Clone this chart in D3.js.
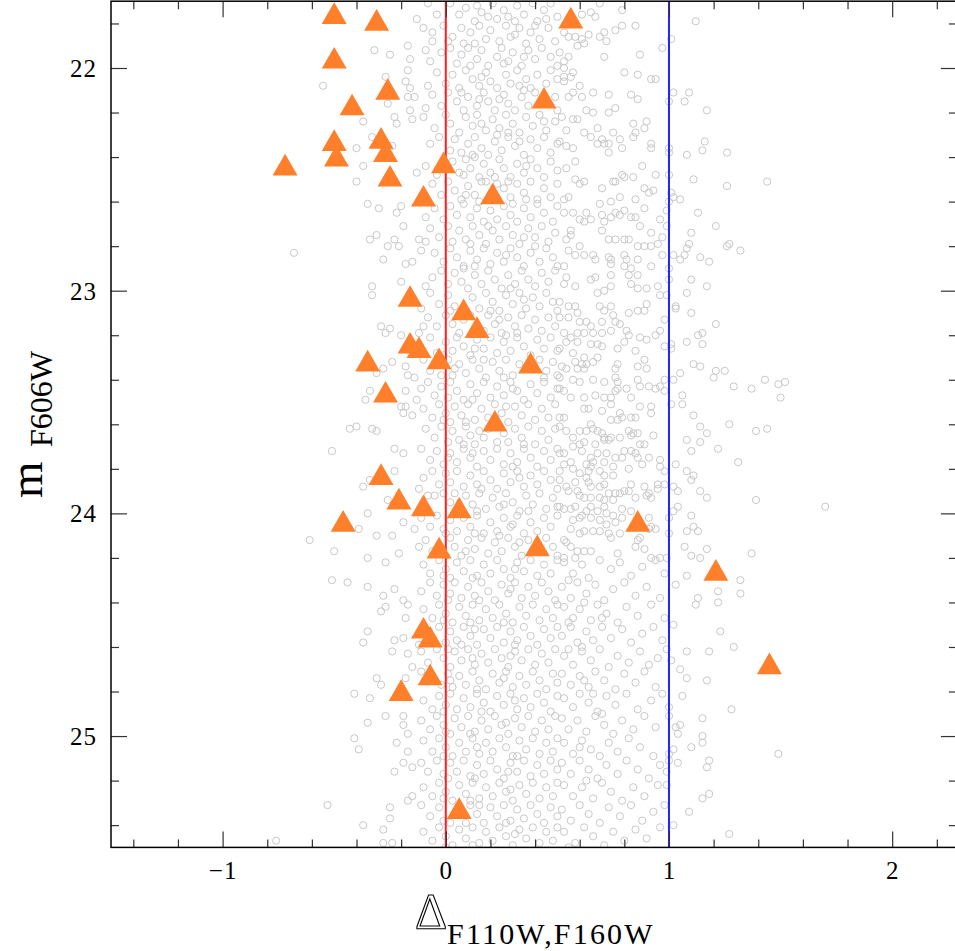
<!DOCTYPE html>
<html><head><meta charset="utf-8">
<script src="https://cdn.jsdelivr.net/npm/d3@7"></script>
<style>body{margin:0;background:#fff}svg{display:block}</style>
</head><body>
<svg id="c" width="955" height="951"></svg>
<script>
// ---- axis extents and ticks ----
const xDomain = [-1.5, 2.29];
const yDomain = [21.7, 25.5];
const xMajorTicks = [-1, 0, 1, 2];
const xTickLabels = ["\u22121", "0", "1", "2"];
const xMinorTicks = [-1.4,-1.2,-0.8,-0.6,-0.4,-0.2,0.2,0.4,0.6,0.8,1.2,1.4,1.6,1.8,2.2];
const yMajorTicks = [22, 23, 24, 25];
const yTickLabels = ["22", "23", "24", "25"];
const yMinorTicks = [21.8,22.2,22.4,22.6,22.8,23.2,23.4,23.6,23.8,24.2,24.4,24.6,24.8,25.2,25.4];
const refLineX = [0, 1];

// ---- cluster members (triangles): [Delta, mF606W] ----
const members = [
[-0.50,21.77],[-0.31,21.80],[0.56,21.79],[-0.50,21.97],[-0.26,22.11],[-0.42,22.18],[0.44,22.15],
[-0.50,22.34],[-0.29,22.33],[-0.49,22.41],[-0.27,22.39],[-0.72,22.45],[-0.01,22.44],[-0.25,22.50],
[-0.10,22.59],[0.21,22.58],[-0.16,23.04],[0.08,23.10],[0.14,23.18],[-0.16,23.25],[-0.12,23.27],
[-0.03,23.32],[-0.35,23.33],[0.38,23.34],[-0.27,23.47],[0.22,23.60],[-0.29,23.84],[-0.21,23.95],
[-0.10,23.98],[0.06,23.99],[-0.46,24.05],[0.86,24.05],[-0.03,24.17],[0.41,24.16],[1.21,24.27],
[-0.10,24.53],[-0.07,24.57],[-0.07,24.74],[-0.20,24.81],[1.45,24.69],[0.06,25.34]
];

// ---- field stars (open circles): [Delta, mF606W] ----
const coreBright = [
[0.02,21.71],[0.06,21.76],[0.09,21.73],[0.13,21.79],[0.14,21.72],[0.19,21.77],[0.21,21.71],[0.23,21.78],[0.26,21.74],[0.31,21.79],[0.32,21.72],[0.35,21.76],[0.39,21.71],[0.41,21.79],[0.44,21.74],[0.47,21.71],[0.50,21.77],[-0.04,21.76],[-0.08,21.71],[0.16,21.75],[0.28,21.77],[0.45,21.78],
[-0.06,21.84],[-0.01,21.81],[0.03,21.86],[0.07,21.82],[0.08,21.89],[0.11,21.84],[0.15,21.81],[0.18,21.87],[0.20,21.83],[0.24,21.88],[0.27,21.81],[0.29,21.86],[0.33,21.82],[0.36,21.89],[0.38,21.84],[0.42,21.87],[0.46,21.82],[0.49,21.88],[0.13,21.89],[0.31,21.85],[0.01,21.88],[0.40,21.81],
[-0.07,21.97],[-0.02,21.93],[0.02,21.91],[0.05,21.98],[0.07,21.94],[0.10,21.91],[0.14,21.96],[0.16,21.92],[0.19,21.99],[0.23,21.95],[0.25,21.91],[0.28,21.97],[0.30,21.93],[0.34,21.99],[0.37,21.92],[0.40,21.96],[0.43,21.91],[0.47,21.95],[0.50,21.99],[0.11,21.99],[0.26,21.98],[0.35,21.95],
[-0.04,22.02],[0.00,22.07],[0.03,22.03],[0.06,22.09],[0.09,22.01],[0.12,22.05],[0.15,22.08],[0.18,22.02],[0.20,22.06],[0.23,22.09],[0.27,22.03],[0.29,22.07],[0.32,22.01],[0.36,22.05],[0.38,22.09],[0.41,22.03],[0.45,22.07],[0.47,22.01],[0.50,22.05],[0.16,22.04],[0.33,22.08],[-0.08,22.08],
[-0.06,22.12],[-0.02,22.17],[0.01,22.11],[0.05,22.15],[0.08,22.19],[0.10,22.13],[0.14,22.17],[0.17,22.11],[0.19,22.15],[0.22,22.19],[0.26,22.12],[0.28,22.16],[0.31,22.19],[0.34,22.13],[0.37,22.17],[0.40,22.11],[0.49,22.13],[0.50,22.19],[0.07,22.11],[0.24,22.14],[0.35,22.10],[0.15,22.14],
[-0.05,22.27],[0.00,22.21],[0.02,22.25],[0.06,22.29],[0.09,22.22],[0.12,22.26],[0.14,22.21],[0.18,22.28],[0.21,22.23],[0.24,22.27],[0.27,22.21],[0.30,22.25],[0.33,22.29],[0.36,22.22],[0.39,22.26],[0.42,22.21],[0.45,22.28],[0.49,22.24],[0.16,22.25],[0.28,22.29],[0.44,22.24],[-0.10,22.22],
[-0.07,22.34],[-0.03,22.31],[0.02,22.37],[0.04,22.32],[0.07,22.38],[0.10,22.34],[0.13,22.31],[0.16,22.36],[0.19,22.39],[0.22,22.33],[0.25,22.37],[0.28,22.31],[0.31,22.35],[0.35,22.39],[0.38,22.32],[0.41,22.36],[0.44,22.31],[0.47,22.38],[0.50,22.34],[0.12,22.39],[0.33,22.33],[0.23,22.30],
[0.03,22.42],[0.06,22.47],[0.09,22.41],[0.11,22.45],[0.15,22.49],[0.17,22.43],[0.20,22.47],[0.24,22.41],[0.26,22.45],[0.29,22.49],[0.32,22.43],[0.35,22.47],[0.38,22.41],[0.41,22.45],[0.44,22.49],[0.47,22.42],[0.50,22.46],[-0.04,22.48],[0.13,22.40],[0.36,22.44],[0.22,22.49],[0.08,22.48],
[-0.06,22.52],[-0.02,22.57],[0.01,22.51],[0.04,22.55],[0.07,22.59],[0.10,22.53],[0.13,22.57],[0.16,22.51],[0.26,22.54],[0.29,22.58],[0.32,22.52],[0.35,22.56],[0.38,22.51],[0.41,22.59],[0.44,22.54],[0.47,22.58],[0.50,22.52],[0.18,22.51],[0.28,22.51],[0.09,22.57],[0.36,22.59],[0.23,22.52],
[-0.05,22.63],[-0.01,22.68],[0.02,22.62],[0.05,22.66],[0.08,22.61],[0.11,22.67],[0.14,22.63],[0.17,22.69],[0.20,22.64],[0.23,22.68],[0.26,22.62],[0.29,22.66],[0.32,22.69],[0.35,22.63],[0.38,22.67],[0.41,22.61],[0.44,22.65],[0.48,22.69],[0.50,22.62],[0.15,22.60],[0.30,22.61],[-0.09,22.67],
[-0.07,22.72],[-0.03,22.76],[0.01,22.71],[0.03,22.78],[0.06,22.73],[0.09,22.77],[0.12,22.71],[0.15,22.75],[0.18,22.79],[0.21,22.73],[0.24,22.77],[0.27,22.71],[0.30,22.75],[0.33,22.79],[0.37,22.72],[0.40,22.76],[0.43,22.71],[0.46,22.78],[0.49,22.74],[0.19,22.71],[0.35,22.76],[0.11,22.79],
[-0.05,22.83],[-0.01,22.87],[0.02,22.81],[0.05,22.85],[0.08,22.89],[0.11,22.82],[0.14,22.86],[0.17,22.81],[0.20,22.88],[0.23,22.83],[0.26,22.87],[0.29,22.81],[0.32,22.85],[0.35,22.89],[0.38,22.83],[0.42,22.87],[0.45,22.81],[0.48,22.85],[0.50,22.89],[0.13,22.89],[0.27,22.84],[0.40,22.80],
[-0.06,22.94],[-0.02,22.91],[0.01,22.97],[0.04,22.92],[0.07,22.96],[0.10,22.99],[0.13,22.93],[0.16,22.97],[0.19,22.91],[0.22,22.95],[0.25,22.99],[0.28,22.93],[0.31,22.97],[0.34,22.91],[0.37,22.95],[0.40,22.98],[0.43,22.92],[0.46,22.96],[0.49,22.91],[0.08,22.90],[0.29,22.99],[-0.09,22.98]
];
const coreMid = [
[-0.07,23.01],[-0.03,23.06],[0.01,23.02],[0.04,23.07],[0.12,23.03],[0.15,23.08],[0.18,23.01],[0.21,23.05],[0.24,23.09],[0.27,23.02],[0.30,23.06],[0.33,23.01],[0.36,23.08],[0.39,23.03],[0.42,23.07],[0.45,23.01],[0.48,23.05],[0.50,23.09],[0.20,23.09],[0.35,23.04],[0.02,23.09],[-0.11,23.08],
[-0.08,23.12],[-0.04,23.16],[0.00,23.11],[0.03,23.15],[0.06,23.19],[0.08,23.13],[0.19,23.11],[0.22,23.15],[0.25,23.19],[0.28,23.12],[0.31,23.16],[0.34,23.11],[0.37,23.17],[0.40,23.13],[0.43,23.18],[0.46,23.12],[0.49,23.16],[0.17,23.18],[0.32,23.19],[0.11,23.11],[-0.12,23.19],[0.24,23.13],
[-0.07,23.21],[-0.04,23.28],[0.00,23.23],[0.03,23.27],[0.05,23.21],[0.08,23.25],[0.11,23.29],[0.14,23.22],[0.17,23.26],[0.20,23.21],[0.23,23.28],[0.26,23.23],[0.29,23.27],[0.32,23.21],[0.35,23.25],[0.38,23.29],[0.41,23.22],[0.44,23.26],[0.47,23.21],[0.50,23.27],[0.13,23.26],[0.27,23.20],[-0.01,23.29],
[-0.10,23.31],[-0.07,23.36],[0.01,23.31],[0.03,23.38],[0.06,23.33],[0.09,23.37],[0.12,23.31],[0.15,23.35],[0.18,23.39],[0.21,23.32],[0.24,23.36],[0.27,23.31],[0.30,23.38],[0.33,23.33],[0.42,23.31],[0.45,23.36],[0.48,23.32],[0.50,23.38],[0.17,23.31],[0.26,23.39],[0.04,23.35],[-0.02,23.38],[0.44,23.39],
[-0.11,23.44],[-0.08,23.41],[-0.05,23.47],[-0.02,23.43],[0.01,23.48],[0.02,23.41],[0.05,23.45],[0.08,23.49],[0.11,23.42],[0.14,23.46],[0.17,23.41],[0.20,23.48],[0.23,23.43],[0.26,23.47],[0.29,23.41],[0.32,23.45],[0.35,23.49],[0.38,23.42],[0.41,23.46],[0.44,23.41],[0.47,23.48],[0.50,23.44],[0.12,23.49],[0.30,23.44],
[-0.10,23.53],[-0.06,23.57],[-0.03,23.51],[0.00,23.55],[0.02,23.59],[0.04,23.52],[0.07,23.56],[0.10,23.51],[0.13,23.58],[0.16,23.53],[0.19,23.57],[0.22,23.51],[0.25,23.55],[0.28,23.59],[0.31,23.52],[0.34,23.56],[0.37,23.51],[0.40,23.58],[0.43,23.53],[0.46,23.57],[0.49,23.51],[0.09,23.59],[0.27,23.52],[-0.01,23.58],
[-0.09,23.62],[-0.05,23.66],[-0.02,23.61],[0.01,23.68],[0.03,23.63],[0.06,23.67],[0.09,23.61],[0.11,23.65],[0.13,23.69],[0.15,23.63],[0.17,23.66],[0.19,23.62],[0.26,23.64],[0.28,23.68],[0.31,23.62],[0.34,23.66],[0.37,23.61],[0.40,23.69],[0.43,23.63],[0.46,23.67],[0.49,23.62],[0.23,23.68],[0.08,23.69],[0.35,23.69],
[-0.11,23.71],[-0.07,23.76],[-0.04,23.72],[-0.01,23.78],[0.02,23.73],[0.05,23.77],[0.08,23.71],[0.11,23.75],[0.14,23.79],[0.17,23.72],[0.20,23.76],[0.23,23.71],[0.26,23.78],[0.29,23.73],[0.32,23.77],[0.35,23.71],[0.38,23.75],[0.41,23.79],[0.44,23.72],[0.47,23.76],[0.50,23.71],[0.12,23.73],[0.30,23.79],[0.01,23.75],
[-0.10,23.84],[-0.06,23.81],[-0.03,23.87],[0.00,23.82],[0.02,23.86],[0.05,23.81],[0.08,23.88],[0.11,23.83],[0.14,23.87],[0.17,23.81],[0.20,23.85],[0.23,23.89],[0.26,23.82],[0.29,23.86],[0.32,23.81],[0.35,23.88],[0.38,23.83],[0.41,23.87],[0.44,23.81],[0.47,23.85],[0.50,23.89],[0.16,23.89],[0.33,23.84],[-0.12,23.89],
[-0.05,23.92],[-0.01,23.91],[0.02,23.95],[0.09,23.92],[0.12,23.96],[0.15,23.91],[0.18,23.98],[0.21,23.93],[0.24,23.97],[0.27,23.91],[0.30,23.95],[0.33,23.99],[0.36,23.92],[0.39,23.96],[0.42,23.91],[0.45,23.98],[0.48,23.93],[0.50,23.97],[0.14,23.99],[0.26,23.96],[-0.08,23.92],[0.04,23.91],[0.37,23.99],
[-0.11,24.02],[-0.07,24.06],[-0.04,24.01],[-0.01,24.07],[0.02,24.03],[0.05,24.08],[0.08,24.02],[0.11,24.06],[0.14,24.01],[0.17,24.09],[0.20,24.04],[0.23,24.08],[0.26,24.02],[0.29,24.06],[0.32,24.01],[0.35,24.09],[0.38,24.04],[0.41,24.08],[0.44,24.02],[0.47,24.06],[0.50,24.01],[0.13,24.09],[0.30,24.05],[0.00,24.09],
[-0.09,24.12],[-0.06,24.17],[0.02,24.11],[0.04,24.15],[0.07,24.19],[0.10,24.12],[0.13,24.16],[0.16,24.11],[0.19,24.18],[0.22,24.13],[0.25,24.17],[0.28,24.11],[0.31,24.15],[0.34,24.19],[0.37,24.12],[0.45,24.11],[0.48,24.15],[0.50,24.19],[0.09,24.17],[0.24,24.10],[0.00,24.19],[0.33,24.13],[-0.12,24.15]
];
const coreFaint = [
[-0.10,24.23],[-0.07,24.27],[-0.03,24.21],[0.00,24.25],[0.02,24.29],[0.05,24.22],[0.08,24.26],[0.11,24.21],[0.14,24.28],[0.17,24.23],[0.20,24.27],[0.23,24.21],[0.26,24.25],[0.29,24.29],[0.32,24.22],[0.35,24.26],[0.38,24.21],[0.41,24.28],[0.44,24.23],[0.47,24.27],[0.50,24.21],[0.12,24.29],[0.31,24.25],[-0.01,24.28],
[-0.11,24.35],[-0.07,24.31],[-0.04,24.37],[-0.01,24.32],[0.02,24.36],[0.04,24.31],[0.07,24.38],[0.10,24.33],[0.13,24.37],[0.16,24.31],[0.19,24.35],[0.22,24.39],[0.25,24.32],[0.28,24.36],[0.31,24.31],[0.34,24.38],[0.37,24.33],[0.40,24.37],[0.43,24.31],[0.46,24.35],[0.49,24.39],[0.15,24.39],[0.29,24.34],[0.01,24.39],
[-0.10,24.43],[-0.06,24.47],[-0.03,24.41],[0.00,24.45],[0.03,24.49],[0.06,24.42],[0.09,24.46],[0.12,24.41],[0.15,24.48],[0.18,24.43],[0.21,24.47],[0.24,24.41],[0.27,24.45],[0.30,24.49],[0.33,24.42],[0.36,24.46],[0.39,24.41],[0.42,24.48],[0.45,24.43],[0.48,24.47],[0.50,24.41],[0.11,24.49],[0.26,24.49],[-0.01,24.48],
[-0.03,24.51],[0.00,24.58],[0.02,24.53],[0.05,24.57],[0.08,24.51],[0.11,24.55],[0.14,24.59],[0.17,24.52],[0.20,24.56],[0.23,24.51],[0.26,24.58],[0.29,24.53],[0.32,24.57],[0.35,24.51],[0.38,24.55],[0.41,24.59],[0.44,24.52],[0.47,24.56],[0.50,24.51],[0.13,24.52],[0.31,24.59],[-0.12,24.59],[0.07,24.59],
[-0.11,24.62],[-0.08,24.67],[-0.04,24.61],[-0.01,24.65],[0.02,24.69],[0.04,24.62],[0.07,24.66],[0.10,24.61],[0.13,24.68],[0.16,24.63],[0.19,24.67],[0.22,24.61],[0.25,24.65],[0.28,24.69],[0.31,24.62],[0.34,24.66],[0.37,24.61],[0.40,24.68],[0.43,24.63],[0.46,24.67],[0.49,24.61],[0.12,24.65],[0.29,24.64],[0.01,24.61],
[-0.11,24.71],[-0.02,24.77],[0.01,24.72],[0.03,24.78],[0.06,24.73],[0.09,24.77],[0.12,24.71],[0.15,24.75],[0.18,24.79],[0.21,24.72],[0.24,24.76],[0.27,24.71],[0.30,24.78],[0.33,24.73],[0.36,24.77],[0.39,24.71],[0.42,24.75],[0.45,24.79],[0.48,24.72],[0.50,24.76],[0.14,24.79],[0.26,24.74],[0.02,24.75],
[-0.10,24.84],[-0.06,24.88],[-0.03,24.82],[0.00,24.86],[0.02,24.81],[0.05,24.88],[0.08,24.83],[0.11,24.87],[0.14,24.81],[0.17,24.85],[0.20,24.89],[0.23,24.82],[0.26,24.86],[0.29,24.81],[0.32,24.88],[0.35,24.83],[0.38,24.87],[0.41,24.81],[0.44,24.85],[0.47,24.89],[0.50,24.82],[0.16,24.89],[0.31,24.84],[-0.01,24.89],
[-0.11,24.93],[-0.07,24.97],[-0.04,24.91],[-0.01,24.95],[0.02,24.99],[0.04,24.92],[0.07,24.96],[0.10,24.91],[0.13,24.98],[0.16,24.93],[0.19,24.97],[0.22,24.91],[0.25,24.95],[0.28,24.99],[0.31,24.92],[0.34,24.96],[0.37,24.91],[0.40,24.98],[0.43,24.93],[0.46,24.97],[0.49,24.91],[0.11,24.99],[0.27,24.94],[0.00,24.98],
[-0.10,25.02],[-0.06,25.07],[-0.03,25.01],[0.00,25.05],[0.03,25.09],[0.06,25.03],[0.09,25.07],[0.12,25.01],[0.15,25.08],[0.18,25.03],[0.21,25.07],[0.24,25.01],[0.27,25.05],[0.30,25.09],[0.33,25.02],[0.36,25.06],[0.39,25.01],[0.42,25.08],[0.45,25.03],[0.48,25.07],[0.50,25.01],[0.14,25.05],[0.32,25.09],[-0.01,25.09],
[-0.11,25.12],[-0.08,25.16],[-0.04,25.11],[-0.01,25.17],[0.02,25.12],[0.05,25.16],[0.08,25.11],[0.11,25.18],[0.14,25.13],[0.17,25.17],[0.20,25.11],[0.23,25.15],[0.26,25.19],[0.29,25.12],[0.32,25.16],[0.35,25.11],[0.38,25.18],[0.41,25.13],[0.44,25.17],[0.47,25.11],[0.50,25.15],[0.13,25.19],[0.28,25.16],[0.01,25.19],
[-0.10,25.23],[-0.06,25.27],[-0.03,25.21],[0.00,25.25],[0.03,25.29],[0.06,25.22],[0.09,25.26],[0.12,25.21],[0.15,25.28],[0.18,25.23],[0.21,25.27],[0.24,25.21],[0.27,25.25],[0.30,25.29],[0.33,25.22],[0.36,25.26],[0.39,25.21],[0.42,25.28],[0.45,25.23],[0.48,25.27],[0.50,25.21],[0.11,25.29],[0.29,25.24],[-0.01,25.28],
[-0.11,25.31],[-0.07,25.36],[-0.03,25.32],[-0.01,25.38],[0.11,25.31],[0.14,25.35],[0.17,25.39],[0.20,25.32],[0.23,25.36],[0.26,25.31],[0.29,25.38],[0.32,25.33],[0.35,25.37],[0.38,25.31],[0.41,25.35],[0.44,25.39],[0.47,25.32],[0.50,25.36],[0.15,25.31],[0.27,25.39],[0.02,25.39],[0.09,25.39],
[-0.10,25.43],[-0.06,25.47],[-0.03,25.41],[0.00,25.45],[0.03,25.49],[0.06,25.42],[0.09,25.46],[0.12,25.41],[0.15,25.48],[0.18,25.43],[0.21,25.47],[0.24,25.41],[0.27,25.45],[0.30,25.49],[0.33,25.42],[0.36,25.46],[0.39,25.41],[0.42,25.48],[0.45,25.43],[0.48,25.47],[0.50,25.41],[0.12,25.49],[0.31,25.44],[0.00,25.50]
];
const redwardBright = [
[0.61,21.76],[0.65,21.75],[0.67,21.77],[0.69,21.71],[0.79,21.74],[0.79,21.81],[0.76,21.83],[0.85,21.81],[0.71,21.84],[0.69,21.86],[0.72,21.88],[0.64,21.85],[0.61,21.87],[0.58,21.86],[0.55,21.86],[0.53,21.84],[0.59,21.90],[0.62,21.89],[0.51,21.93],[0.53,21.97],[0.55,21.95],[0.53,22.00],[0.57,22.02],[0.53,22.04],[0.56,22.04],[0.53,22.06],[0.71,21.95],[0.87,21.94],[0.97,21.91],
[0.80,22.02],[0.86,22.03],[0.92,22.05],[0.94,22.05],[0.60,22.08],[0.66,22.11],[0.57,22.11],[0.55,22.13],[0.61,22.13],[0.73,22.12],[0.83,22.12],[0.86,22.14],[0.76,22.18],[0.63,22.19],[0.66,22.20],[0.73,22.20],[0.52,22.22],[0.57,22.23],[0.59,22.23],[0.90,22.24],[0.89,22.27],[0.84,22.25],[0.68,22.27],[0.54,22.28],[0.62,22.29],[0.65,22.31],[0.75,22.29],[0.78,22.32],[0.85,22.29],[0.84,22.31],
[0.70,22.32],[0.68,22.34],[0.71,22.34],[0.73,22.34],[0.73,22.38],[0.79,22.36],[0.92,22.34],[0.92,22.36],[0.51,22.33],[0.54,22.35],[0.57,22.36],[0.58,22.42],[0.54,22.45],[0.88,22.44],[0.79,22.48],[0.80,22.49],[0.84,22.49],[0.94,22.48],[0.58,22.50],[0.62,22.51],[0.60,22.52],[0.75,22.51],[0.76,22.51],[0.70,22.54],[0.89,22.54],[0.91,22.56],[0.93,22.55],[0.78,22.58],[0.74,22.60],[0.85,22.59],[0.53,22.59],[0.55,22.58],[0.69,22.61],
[0.89,22.63],[0.99,22.64],[0.53,22.65],[0.57,22.65],[0.63,22.65],[0.70,22.66],[0.76,22.65],[0.78,22.66],[0.80,22.64],[0.60,22.68],[0.62,22.69],[0.65,22.68],[0.71,22.69],[0.74,22.67],[0.83,22.67],[0.85,22.67],[0.96,22.68],[0.87,22.71],[0.92,22.74],[0.97,22.76],[0.99,22.71],[0.70,22.73],[0.56,22.73],[0.54,22.77],[0.56,22.75],[0.60,22.80],[0.73,22.77],[0.76,22.77],[0.80,22.77],[0.82,22.77],
[0.86,22.80],[0.89,22.80],[0.92,22.80],[0.95,22.79],[0.55,22.82],[0.58,22.84],[0.62,22.84],[0.66,22.84],[0.67,22.86],[0.73,22.85],[0.74,22.86],[0.80,22.84],[0.81,22.86],[0.86,22.86],[0.97,22.84],[0.92,22.89],[0.74,22.88],[0.74,22.93],[0.80,22.89],[0.83,22.90],[0.82,22.93],[0.86,22.93],[0.53,22.89],[0.54,22.94],[0.67,22.94],[0.65,22.95],
[1.00,22.15],[1.00,22.36],[1.00,22.38],[1.00,22.48],[1.01,22.56],[1.00,22.60],[1.00,22.90],[1.00,22.95]
];
const redwardMid = [
[0.53,22.97],[0.58,22.98],[0.68,23.01],[0.71,23.00],[0.74,22.98],[0.83,22.97],[0.86,22.99],[0.90,22.99],[0.95,22.98],[0.96,23.02],[0.99,23.02],[0.51,23.05],[0.55,23.07],[0.58,23.07],[0.59,23.10],[0.69,23.07],[0.74,23.07],[0.71,23.09],[0.75,23.11],[0.82,23.10],[0.86,23.09],[0.89,23.09],[0.90,23.06],
[0.51,23.12],[0.55,23.12],[0.60,23.14],[0.63,23.14],[0.65,23.16],[0.70,23.14],[0.76,23.14],[0.78,23.15],[0.53,23.19],[0.56,23.21],[0.59,23.19],[0.62,23.19],[0.66,23.19],[0.70,23.19],[0.74,23.18],[0.81,23.18],[0.82,23.20],[0.80,23.23],[0.87,23.21],[0.90,23.22],[0.94,23.20],[0.96,23.18],[0.98,23.13],
[0.54,23.23],[0.59,23.23],[0.65,23.24],[0.68,23.24],[0.70,23.25],[0.77,23.26],[0.85,23.27],[0.98,23.25],[0.51,23.26],[0.57,23.28],[0.62,23.30],[0.68,23.30],[0.58,23.32],[0.61,23.33],[0.63,23.33],[0.66,23.32],[0.52,23.34],[0.54,23.35],[0.59,23.35],[0.62,23.35],[0.77,23.33],[0.76,23.35],[0.86,23.34],[0.89,23.31],[0.90,23.35],
[0.51,23.39],[0.57,23.40],[0.60,23.41],[0.66,23.40],[0.71,23.41],[0.76,23.39],[0.77,23.41],[0.86,23.40],[0.98,23.40],[0.51,23.44],[0.53,23.45],[0.56,23.48],[0.62,23.48],[0.67,23.47],[0.71,23.48],[0.74,23.48],[0.74,23.51],[0.76,23.45],[0.77,23.44],[0.81,23.44],[0.83,23.48],[0.87,23.43],[0.91,23.43],[0.94,23.44],[0.96,23.43],[0.98,23.45],
[0.62,23.53],[0.64,23.53],[0.70,23.54],[0.74,23.58],[0.77,23.58],[0.78,23.55],[0.79,23.57],[0.83,23.57],[0.85,23.57],[0.87,23.52],[0.92,23.52],[0.92,23.55],[0.51,23.57],[0.53,23.57],[0.51,23.61],[0.54,23.63],[0.60,23.63],[0.63,23.63],[0.65,23.60],[0.66,23.62],[0.68,23.63],[0.70,23.64],[0.71,23.66],[0.71,23.67],[0.74,23.66],[0.78,23.66],[0.82,23.63],[0.83,23.65],[0.84,23.64],[0.86,23.64],[0.93,23.65],[0.57,23.66],
[0.62,23.68],[0.67,23.69],[0.73,23.67],[0.80,23.72],[0.83,23.72],[0.85,23.73],[0.87,23.69],[0.89,23.69],[0.51,23.73],[0.53,23.73],[0.57,23.70],[0.60,23.69],[0.61,23.72],[0.65,23.75],[0.68,23.73],[0.72,23.73],[0.76,23.75],[0.79,23.75],[0.86,23.75],[0.91,23.75],[0.96,23.76],[0.53,23.78],[0.56,23.77],[0.63,23.78],[0.66,23.77],[0.69,23.81],[0.71,23.77],[0.75,23.79],
[0.51,23.81],[0.57,23.80],[0.60,23.82],[0.64,23.81],[0.65,23.79],[0.71,23.83],[0.75,23.83],[0.82,23.80],[0.88,23.78],[0.96,23.79],[0.98,23.81],[0.51,23.85],[0.54,23.88],[0.58,23.86],[0.63,23.84],[0.64,23.86],[0.65,23.88],[0.69,23.88],[0.71,23.87],[0.73,23.91],[0.76,23.91],[0.80,23.90],[0.82,23.90],[0.83,23.87],[0.55,23.90],[0.59,23.90],[0.60,23.92],[0.62,23.93],[0.65,23.93],[0.69,23.93],[0.71,23.94],[0.75,23.94],[0.78,23.91],[0.85,23.93],[0.91,23.91],[0.89,23.88],[0.90,23.92],[0.92,23.93],[0.95,23.89],[0.95,23.87],[0.98,23.87],
[0.51,23.97],[0.53,23.98],[0.56,23.98],[0.58,23.97],[0.61,24.01],[0.63,23.99],[0.65,23.97],[0.68,23.99],[0.71,23.97],[0.72,24.00],[0.75,24.01],[0.79,23.98],[0.83,23.99],[0.79,24.02],[0.76,24.04],[0.72,24.05],[0.69,24.03],[0.65,24.02],[0.60,24.02],[0.57,24.03],[0.56,24.07],[0.60,24.09],[0.62,24.08],[0.66,24.08],[0.69,24.08],[0.73,24.09],[0.74,24.11],[0.78,24.09],[0.86,24.12],[0.87,24.11],[0.91,24.07],[0.91,24.02],[0.92,24.06],[0.94,24.07],
[0.53,24.12],[0.54,24.13],[0.56,24.15],[0.59,24.17],[0.62,24.17],[0.65,24.17],[0.53,24.20],[0.58,24.20],[0.77,24.18],[0.85,24.15],[0.89,24.16],[0.92,24.20],[0.96,24.20],[0.99,24.20]
];
const redwardFaint = [
[0.53,24.22],[0.57,24.27],[0.61,24.23],[0.64,24.29],[0.69,24.21],[0.74,24.25],[0.78,24.22],[0.83,24.28],[0.88,24.24],[0.94,24.21],[0.98,24.27],[0.55,24.30],
[0.52,24.33],[0.56,24.38],[0.59,24.31],[0.63,24.36],[0.67,24.32],[0.71,24.39],[0.75,24.34],[0.80,24.31],[0.85,24.37],[0.90,24.33],[0.96,24.38],[0.62,24.40],
[0.53,24.42],[0.57,24.47],[0.60,24.43],[0.65,24.48],[0.68,24.41],[0.72,24.45],[0.77,24.49],[0.81,24.42],[0.86,24.46],[0.92,24.41],[0.55,24.49],[0.70,24.47],
[0.52,24.55],[0.56,24.51],[0.59,24.58],[0.63,24.53],[0.66,24.57],[0.70,24.51],[0.74,24.56],[0.79,24.52],[0.83,24.58],[0.88,24.54],[0.93,24.51],[0.97,24.57],[0.61,24.60],
[0.53,24.64],[0.57,24.68],[0.61,24.62],[0.65,24.66],[0.69,24.61],[0.73,24.69],[0.77,24.64],[0.82,24.67],[0.87,24.62],[0.91,24.68],[0.55,24.61],[0.95,24.65],
[0.52,24.72],[0.56,24.77],[0.60,24.73],[0.64,24.78],[0.67,24.71],[0.71,24.75],[0.76,24.79],[0.80,24.72],[0.85,24.76],[0.89,24.71],[0.94,24.78],[0.62,24.75],
[0.53,24.83],[0.57,24.87],[0.60,24.81],[0.64,24.85],[0.68,24.89],[0.72,24.82],[0.76,24.86],[0.81,24.81],[0.86,24.88],[0.92,24.84],[0.97,24.81],[0.66,24.81],
[0.52,24.92],[0.55,24.97],[0.59,24.93],[0.63,24.98],[0.67,24.91],[0.71,24.95],[0.75,24.99],[0.79,24.93],[0.84,24.97],[0.89,24.91],[0.94,24.96],[0.70,24.90],
[0.53,25.03],[0.57,25.08],[0.61,25.02],[0.65,25.06],[0.69,25.09],[0.73,25.03],[0.77,25.07],[0.82,25.01],[0.87,25.05],[0.93,25.09],[0.60,25.05],
[0.52,25.12],[0.56,25.17],[0.60,25.11],[0.64,25.15],[0.68,25.19],[0.72,25.13],[0.77,25.17],[0.81,25.11],[0.86,25.15],[0.91,25.19],[0.96,25.13],
[0.53,25.22],[0.57,25.27],[0.61,25.23],[0.66,25.28],[0.70,25.21],[0.74,25.25],[0.79,25.29],[0.84,25.23],[0.89,25.27],[0.95,25.22],[0.63,25.20],
[0.52,25.33],[0.56,25.38],[0.60,25.31],[0.64,25.35],[0.69,25.39],[0.73,25.32],[0.78,25.36],[0.83,25.31],[0.88,25.38],[0.93,25.34],[0.98,25.31],
[0.53,25.43],[0.58,25.48],[0.62,25.41],[0.66,25.45],[0.71,25.49],[0.75,25.43],[0.80,25.47],[0.85,25.42],[0.90,25.46],[0.96,25.41],[0.55,25.50]
];
const blueTail = [
[1.12,21.79],[1.01,21.87],[1.02,22.11],[1.09,22.11],[1.07,22.15],[1.17,22.19],[1.16,22.33],[1.15,22.37],[1.08,22.39],[1.26,22.38],[1.11,22.50],[1.26,22.53],[1.44,22.51],[1.05,22.59],[1.02,22.58],[1.13,22.65],[1.21,22.71],[1.10,22.74],[1.09,22.79],[1.08,22.81],[1.26,22.80],[1.27,22.79],[1.32,22.82],[1.02,22.84],[1.05,22.86],[1.07,22.84],[1.14,22.85],[1.18,22.87],[1.10,22.95],[1.17,22.98],
[1.08,23.01],[1.03,23.07],[1.03,23.08],[1.10,23.10],[1.21,23.15],[1.13,23.20],[1.15,23.19],[1.15,23.24],[1.08,23.23],[1.01,23.24],[1.01,23.26],[1.11,23.33],[1.14,23.34],[1.21,23.36],[1.25,23.36],[1.20,23.39],[1.05,23.37],[1.02,23.40],[1.43,23.40],[1.49,23.42],[1.52,23.41],[1.29,23.43],[1.37,23.44],[1.50,23.48],[1.06,23.47],[1.06,23.51],[1.01,23.51],[1.11,23.56],[1.27,23.60],[1.14,23.61],[1.39,23.63],[1.44,23.62],[1.17,23.64],[1.08,23.67],[1.14,23.68],[1.22,23.71],[1.10,23.72],[1.31,23.77],[1.03,23.78],[1.08,23.81],[1.11,23.83],[1.10,23.85],[1.02,23.88],[1.04,23.90],[1.14,23.90],[1.17,23.93],[1.39,23.94],[1.70,23.97],[1.04,23.97],[1.02,23.99],[1.10,24.01],[1.00,24.02],[1.11,24.06],[1.13,24.08],[1.08,24.08],[1.00,24.09],[1.07,24.15],[1.17,24.16],[1.10,24.19],[1.14,24.20],[1.37,24.18],
[1.08,24.28],[1.03,24.32],[1.32,24.30],[1.22,24.35],[1.32,24.36],[1.22,24.40],[1.13,24.38],[1.12,24.41],[1.02,24.50],[0.98,24.47],[1.23,24.53],[1.29,24.60],[1.08,24.62],[1.18,24.62],[0.99,24.61],[1.01,24.66],[1.05,24.70],[1.08,24.74],[1.17,24.75],[1.06,24.82],[1.28,24.88],[1.00,24.87],[1.00,24.91],[1.15,24.92],[1.03,24.96],[1.05,24.95],[1.04,24.99],[1.15,25.00],[1.15,25.03],[1.10,25.05],[1.02,25.06],[1.00,25.08],[1.49,25.08],[1.00,25.11],[1.04,25.12],[1.18,25.11],[1.17,25.14],[0.99,25.16],[0.99,25.22],[1.15,25.28],[1.18,25.26],[1.09,25.34],[1.02,25.40],[1.27,25.44]
];
const blueEdgeTail = [
[-0.55,22.08],[-0.68,22.83],[-0.40,22.36],[-0.37,22.44],[-0.40,22.51],[-0.35,22.61],[-0.30,22.63],[-0.34,22.77],[-0.31,22.75],[-0.37,22.24],[-0.32,21.92],[-0.25,21.94],[-0.27,22.04],[-0.33,22.31],[-0.24,22.35],[-0.23,22.22],[-0.22,22.25],[-0.26,22.16],[-0.17,21.90],[-0.13,21.78],[-0.16,21.96],[-0.17,22.01],[-0.18,22.06],[-0.16,22.09],[-0.17,22.13],[-0.14,22.13],[-0.16,22.19],[-0.15,22.23],[-0.09,22.18],[-0.09,21.92],[-0.06,21.88],[-0.10,21.82],[-0.13,22.47],[-0.09,22.44],[-0.22,22.65],[-0.20,22.62],[-0.19,22.71],[-0.26,22.80],[-0.23,22.77],[-0.21,22.80],[-0.28,22.86],[-0.18,22.88],[-0.15,22.87],[-0.33,22.98],[-0.20,22.96],[-0.12,22.77],[-0.09,22.78],[-0.11,22.82],
[-0.33,23.02],[-0.29,23.16],[-0.27,23.19],[-0.25,23.17],[-0.24,23.32],[-0.28,23.35],[-0.31,23.37],[-0.34,23.45],[-0.36,23.49],[-0.43,23.62],[-0.40,23.61],[-0.33,23.62],[-0.31,23.63],[-0.51,23.72],[-0.61,24.12],[-0.50,24.17],[-0.35,24.20],[-0.27,24.22],[-0.37,23.88],[-0.34,23.85],[-0.35,24.00],[-0.39,24.07],[-0.31,24.10],[-0.24,24.10],[-0.26,23.94],[-0.23,23.81],[-0.19,24.04],[-0.14,24.07],[-0.21,24.18],[-0.23,23.71],[-0.19,23.73],[-0.20,23.52],[-0.18,23.52],[-0.19,23.55],[-0.15,23.56],[-0.18,23.34],[-0.17,23.38],[-0.14,23.39],[-0.18,23.45],[-0.13,23.49],[-0.20,23.20],[-0.10,23.16],
[-0.51,24.30],[-0.44,24.31],[-0.35,24.33],[-0.28,24.37],[-0.23,24.34],[-0.29,24.44],[-0.27,24.42],[-0.35,24.53],[-0.37,24.58],[-0.23,24.57],[-0.24,24.62],[-0.19,24.56],[-0.31,24.74],[-0.29,24.77],[-0.41,24.81],[-0.34,24.83],[-0.27,24.91],[-0.35,24.94],[-0.41,25.01],[-0.39,25.06],[-0.22,25.03],[-0.23,25.16],[-0.19,25.12],[-0.53,25.31],[-0.37,25.40],[-0.28,25.42],[-0.25,25.32],[-0.25,25.37],[-0.76,25.47],[-0.28,25.48],[-0.24,25.48],[-0.17,25.29],[-0.15,25.27],[-0.19,24.95],[-0.17,24.99],[-0.19,24.91],[-0.17,25.07],[-0.18,24.47],[-0.17,24.41],[-0.19,24.39],[-0.17,24.63],[-0.15,24.69],[-0.18,24.74],[-0.15,25.14]
];

// ---- drawing ----
const svg = d3.select("#c");
const x = d3.scaleLinear().domain(xDomain).range([111, 956.9]);
const y = d3.scaleLinear().domain(yDomain).range([1.2, 847.4]);
const x0 = x(xDomain[0]), x1 = x(xDomain[1]), y0 = y(yDomain[0]), y1 = y(yDomain[1]);

svg.append("rect").attr("width",955).attr("height",951).attr("fill","#fff");
svg.append("defs").append("clipPath").attr("id","plot")
  .append("rect").attr("x",x0).attr("y",y0).attr("width",x1-x0).attr("height",y1-y0);

const plot = svg.append("g").attr("clip-path","url(#plot)");
const stars = [].concat(coreBright, coreMid, coreFaint, redwardBright, redwardMid, redwardFaint, blueTail, blueEdgeTail);
plot.selectAll("circle.star").data(stars).join("circle")
  .attr("class","star")
  .attr("cx",d=>x(d[0])).attr("cy",d=>y(d[1])).attr("r",3.6)
  .attr("fill","none").attr("stroke","#c8c8c8").attr("stroke-width",1);

const lineColours = ["#ff1f1f","#2323ff"];
plot.selectAll("line.ref").data(refLineX).join("line")
  .attr("class","ref")
  .attr("x1",d=>x(d)).attr("x2",d=>x(d)).attr("y1",y0).attr("y2",y1)
  .attr("stroke",(d,i)=>lineColours[i]).attr("stroke-width",2);

const tri = d3.symbol(d3.symbolTriangle, 270);
plot.selectAll("path.member").data(members).join("path")
  .attr("class","member")
  .attr("transform",d=>`translate(${x(d[0])},${y(d[1])})`)
  .attr("d",tri).attr("fill","#ff7f2a");

// axes with inward ticks
const fontFam = "'Liberation Serif','Times New Roman',serif";
function styleAxis(g){
  g.select(".domain").remove();
  g.selectAll(".tick line").attr("stroke","#333").attr("stroke-width",1.2);
}
const gB = svg.append("g").attr("transform",`translate(0,${y1})`)
  .call(d3.axisBottom(x).tickValues(xMajorTicks).tickSize(-16).tickPadding(0).tickFormat((d,i)=>xTickLabels[i]));
styleAxis(gB);
gB.selectAll(".tick text").attr("y",31.5).attr("dy",0)
  .attr("font-family",fontFam).attr("font-size",25).attr("fill","#000").attr("letter-spacing",1);
svg.append("g").attr("transform",`translate(0,${y1})`)
  .call(d3.axisBottom(x).tickValues(xMinorTicks).tickSize(-8).tickFormat("")).call(styleAxis);
svg.append("g").attr("transform",`translate(0,${y0})`)
  .call(d3.axisTop(x).tickValues(xMajorTicks).tickSize(-16).tickFormat("")).call(styleAxis);
svg.append("g").attr("transform",`translate(0,${y0})`)
  .call(d3.axisTop(x).tickValues(xMinorTicks).tickSize(-8).tickFormat("")).call(styleAxis);

const gL = svg.append("g").attr("transform",`translate(${x0},0)`)
  .call(d3.axisLeft(y).tickValues(yMajorTicks).tickSize(-16).tickPadding(14).tickFormat((d,i)=>yTickLabels[i]));
styleAxis(gL);
gL.selectAll(".tick text").attr("dy","0.34em")
  .attr("font-family",fontFam).attr("font-size",25).attr("fill","#000").attr("letter-spacing",1);
svg.append("g").attr("transform",`translate(${x0},0)`)
  .call(d3.axisLeft(y).tickValues(yMinorTicks).tickSize(-8).tickFormat("")).call(styleAxis);
svg.append("g").attr("transform",`translate(${x1},0)`)
  .call(d3.axisRight(y).tickValues(yMajorTicks).tickSize(-16).tickFormat("")).call(styleAxis);
svg.append("g").attr("transform",`translate(${x1},0)`)
  .call(d3.axisRight(y).tickValues(yMinorTicks).tickSize(-8).tickFormat("")).call(styleAxis);

// frame
svg.append("rect").attr("x",x0).attr("y",y0).attr("width",x1-x0).attr("height",y1-y0)
  .attr("fill","none").attr("stroke","#000").attr("stroke-width",1.5);

// axis titles
const xt = svg.append("text").attr("font-family",fontFam).attr("fill","#000");
xt.append("tspan").attr("x",415).attr("y",928).attr("font-size",50)
  .attr("fill","none").attr("stroke","#000").attr("stroke-width",1.1).text("\u0394");
xt.append("tspan").attr("x",447).attr("y",944).attr("font-size",30).attr("letter-spacing",2.2).text("F110W,F160W");

const yt = svg.append("g").attr("transform","translate(42,498) rotate(-90)")
  .append("text").attr("font-family",fontFam).attr("fill","#000");
yt.append("tspan").attr("x",0).attr("y",0).attr("font-size",47).text("m");
yt.append("tspan").attr("x",51).attr("y",10).attr("font-size",32).text("F606W");
</script>
</body></html>
